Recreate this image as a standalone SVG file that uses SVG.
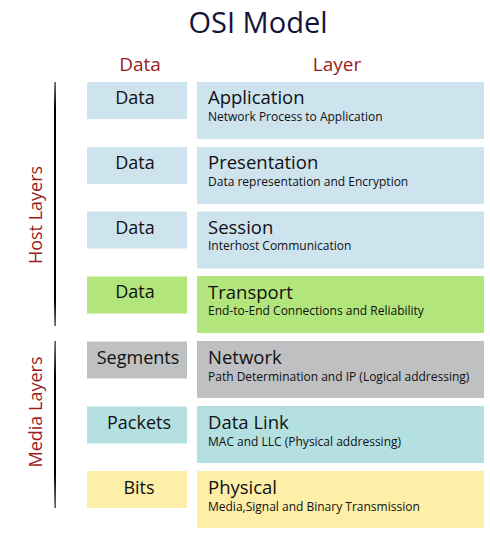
<svg xmlns="http://www.w3.org/2000/svg" width="490" height="536" viewBox="0 0 490 536">
<defs>
<style>
text{font-family:"Open Sans","Liberation Sans",sans-serif;}
.title{font-size:29px;fill:#14143a;}
.hdr{font-size:19px;fill:#9a1b1b;}
.side{font-size:18px;fill:#9a1b1b;}
.lbl{font-size:18px;fill:#111;text-anchor:middle;}
.name{font-size:18.5px;fill:#111;}
.desc{font-size:12px;fill:#111;}
.blue{fill:#cde3ee;}
.green{fill:#b2e57c;}
.gray{fill:#bfc0c2;}
.teal{fill:#b5e0e1;}
.yellow{fill:#fdefa8;}
.brace{fill:#000;}
</style>
</defs>
<rect width="490" height="536" fill="#fff"/>
<text class="title" x="258" y="33" text-anchor="middle">OSI Model</text>
<text class="hdr" x="140" y="71" text-anchor="middle">Data</text>
<text class="hdr" x="337" y="71" text-anchor="middle">Layer</text>

<g id="host-layers">
<path class="brace" d="M54.6,82 L55.6,82 L56,108 L56,300 L55.6,326 L54.6,326 L54,300 L54,108 Z"/>
<text class="side" transform="translate(42,215) rotate(-90)" text-anchor="middle">Host Layers</text>
</g>
<g id="media-layers">
<path class="brace" d="M54.6,341 L55.6,341 L56,377 L56,473 L55.6,508 L54.6,508 L54,473 L54,377 Z"/>
<text class="side" transform="translate(42,412) rotate(-90)" text-anchor="middle">Media Layers</text>
</g>

<g id="application">
<rect class="blue" x="87" y="82" width="100" height="37"/>
<text class="lbl" x="135" y="104">Data</text>
<rect class="blue" x="197" y="82" width="287" height="57"/>
<text class="name" x="208" y="104">Application</text>
<text class="desc" x="208" y="121">Network Process to Application</text>
</g>
<g id="presentation">
<rect class="blue" x="87" y="147" width="100" height="37"/>
<text class="lbl" x="135" y="169">Data</text>
<rect class="blue" x="197" y="147" width="287" height="57"/>
<text class="name" x="208" y="169">Presentation</text>
<text class="desc" x="208" y="186">Data representation and Encryption</text>
</g>
<g id="session">
<rect class="blue" x="87" y="211.5" width="100" height="37"/>
<text class="lbl" x="135" y="233.5">Data</text>
<rect class="blue" x="197" y="211.5" width="287" height="57"/>
<text class="name" x="208" y="233.5">Session</text>
<text class="desc" x="208" y="250">Interhost Communication</text>
</g>
<g id="transport">
<rect class="green" x="87" y="276.5" width="100" height="37"/>
<text class="lbl" x="135" y="298">Data</text>
<rect class="green" x="197" y="276" width="287" height="57"/>
<text class="name" x="208" y="299">Transport</text>
<text class="desc" x="208" y="315">End-to-End Connections and Reliability</text>
</g>
<g id="network">
<rect class="gray" x="87" y="341.5" width="100" height="37"/>
<text class="lbl" x="138" y="364">Segments</text>
<rect class="gray" x="197" y="341" width="287" height="57"/>
<text class="name" x="208" y="364">Network</text>
<text class="desc" x="208" y="381">Path Determination and IP (Logical addressing)</text>
</g>
<g id="data-link">
<rect class="teal" x="87" y="406.5" width="100" height="37"/>
<text class="lbl" x="139" y="429">Packets</text>
<rect class="teal" x="197" y="406" width="287" height="57"/>
<text class="name" x="208" y="429">Data Link</text>
<text class="desc" x="208" y="446">MAC and LLC (Physical addressing)</text>
</g>
<g id="physical">
<rect class="yellow" x="87" y="471" width="100" height="37"/>
<text class="lbl" x="139" y="494">Bits</text>
<rect class="yellow" x="197" y="471" width="287" height="57"/>
<text class="name" x="208" y="494">Physical</text>
<text class="desc" x="208" y="511">Media,Signal and Binary Transmission</text>
</g>
<g id="connectors"></g>
</svg>
